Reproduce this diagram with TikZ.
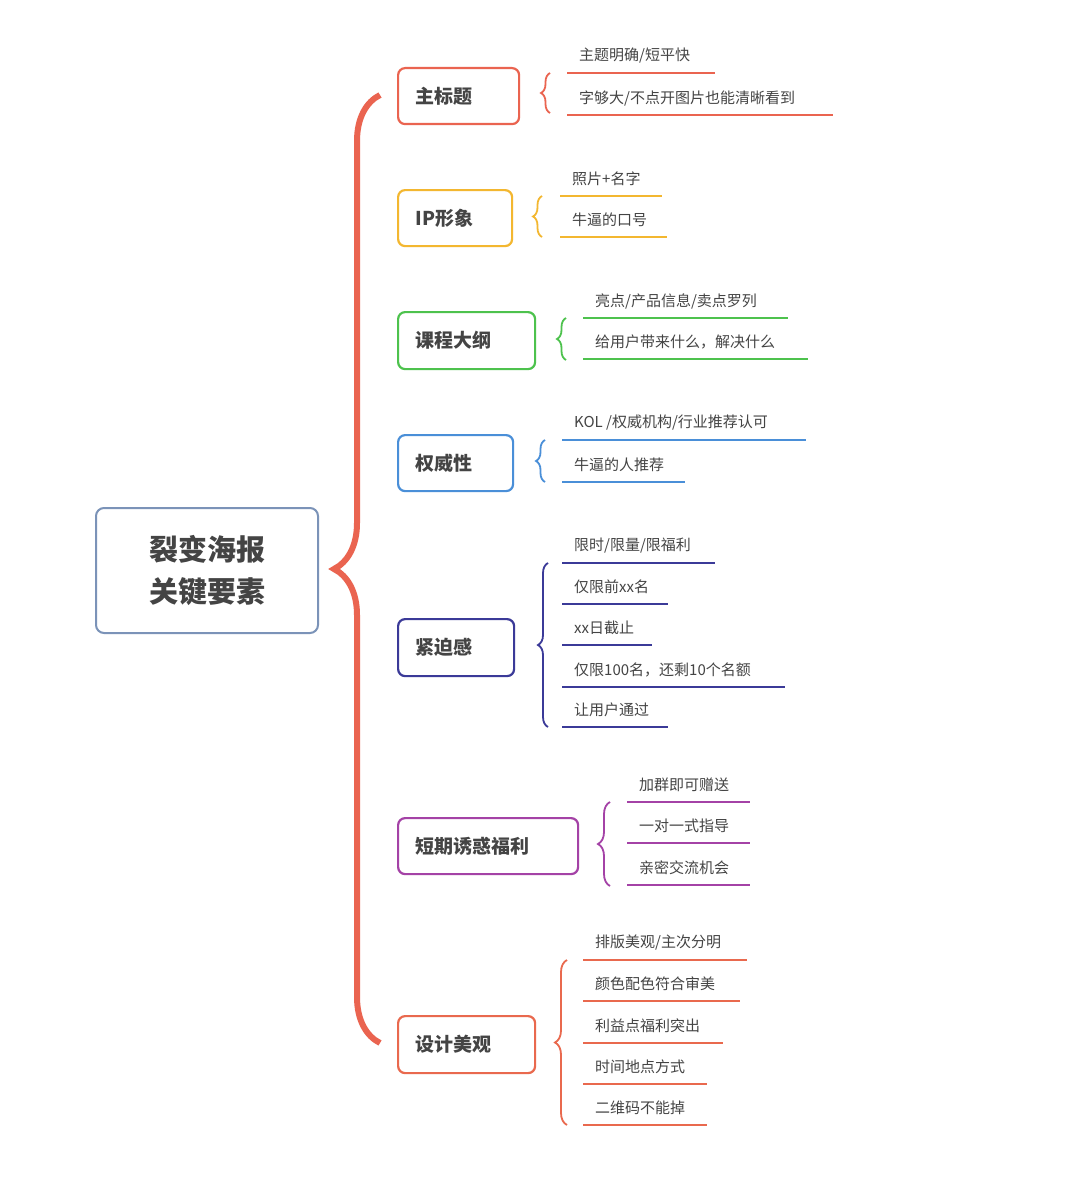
\documentclass[tikz,border=0pt]{standalone}
\usepackage{fontspec}
\setmainfont{Noto Sans CJK SC}
\usetikzlibrary{decorations.pathreplacing}
\definecolor{cred}{HTML}{EA6450}
\definecolor{cyel}{HTML}{F3B730}
\definecolor{cgrn}{HTML}{4DC24D}
\definecolor{cblu}{HTML}{4A8FD8}
\definecolor{cind}{HTML}{3B3A98}
\definecolor{cpur}{HTML}{A442A6}
\definecolor{cora}{HTML}{E9694E}
\definecolor{ctxt}{HTML}{444444}
\definecolor{cmain}{HTML}{7B93B8}
\tikzset{
 branch/.style={draw=#1,line width=2.2pt,rounded corners=7pt,anchor=north west,inner sep=0pt},
 btext/.style={text=ctxt,font=\fontsize{19}{19}\selectfont\bfseries,anchor=west},
 item/.style={anchor=west,text=ctxt,font=\fontsize{15}{15}\selectfont,inner sep=0pt},
 uline/.style={draw=#1,line width=2.4pt},
 br/.style={draw=#1,line width=1.8pt,decorate,decoration={brace,amplitude=9pt}},
}
\newcommand{\mkbranch}[7]{% name,color,x1,y1,x2,y2,text
 \node[branch=#2,minimum width={(#5-#3)*1pt},minimum height={(#6-#4)*1pt}] (#1) at (#3,#4) {};
 \node[btext] at ([xshift=15pt]#1.west) {#7};
}
\newcommand{\mkitem}[6]{% name,color,x1,x2,yline,text
 \coordinate (#1a) at (#3,#5); \coordinate (#1b) at (#4,#5);
 \draw[uline=#2] (#1a) -- (#1b);
 \node[item] (#1t) at (#3+12,#5-17) {#6};
}
\begin{document}
\begin{tikzpicture}[x=1pt,y=-1pt]
\useasboundingbox[fill=white] (0,0) rectangle (1070,1180);
\node[draw=cmain,line width=2pt,rounded corners=8pt,minimum width=222pt,minimum height=125pt,anchor=north west] (root) at (95,507) {};
\node[text=ctxt,font=\fontsize{29}{42}\selectfont\bfseries,align=center] at (root.center) {裂变海报\\关键要素};
\draw[draw=cred,line width=6pt,decorate,decoration={brace,amplitude=46pt,aspect=0.5}] (380,1043) -- (380,95);
% branches
\mkbranch{b1}{cred}{397}{67}{518}{123}{主标题}
\mkbranch{b2}{cyel}{397}{189}{511}{245}{IP形象}
\mkbranch{b3}{cgrn}{397}{311}{534}{368}{课程大纲}
\mkbranch{b4}{cblu}{397}{434}{512}{490}{权威性}
\mkbranch{b5}{cind}{397}{618}{513}{675}{紧迫感}
\mkbranch{b6}{cpur}{397}{817}{577}{873}{短期诱惑福利}
\mkbranch{b7}{cora}{397}{1015}{534}{1072}{设计美观}
% braces
\draw[br=cred] (550,113) -- (550,73);
\draw[br=cyel] (542,237) -- (542,196);
\draw[br=cgrn] (566,360) -- (566,318);
\draw[br=cblu] (545,482) -- (545,440);
\draw[br=cind,decoration={brace,amplitude=10pt}] (548,727) -- (548,563);
\draw[br=cpur,decoration={brace,amplitude=12pt}] (610,886) -- (610,802);
\draw[br=cora,decoration={brace,amplitude=12pt}] (567,1125) -- (567,960);
% items
\mkitem{i11}{cred}{567}{715}{73}{主题明确/短平快}
\mkitem{i12}{cred}{567}{833}{115}{字够大/不点开图片也能清晰看到}
\mkitem{i21}{cyel}{560}{662}{196}{照片+名字}
\mkitem{i22}{cyel}{560}{667}{237}{牛逼的口号}
\mkitem{i31}{cgrn}{583}{788}{318}{亮点/产品信息/卖点罗列}
\mkitem{i32}{cgrn}{583}{808}{359}{给用户带来什么，解决什么}
\mkitem{i41}{cblu}{562}{806}{440}{KOL /权威机构/行业推荐认可}
\mkitem{i42}{cblu}{562}{685}{482}{牛逼的人推荐}
\mkitem{i51}{cind}{562}{715}{563}{限时/限量/限福利}
\mkitem{i52}{cind}{562}{668}{604}{仅限前xx名}
\mkitem{i53}{cind}{562}{652}{645}{xx日截止}
\mkitem{i54}{cind}{562}{785}{687}{仅限100名，还剩10个名额}
\mkitem{i55}{cind}{562}{668}{727}{让用户通过}
\mkitem{i61}{cpur}{627}{750}{802}{加群即可赠送}
\mkitem{i62}{cpur}{627}{750}{843}{一对一式指导}
\mkitem{i63}{cpur}{627}{750}{885}{亲密交流机会}
\mkitem{i71}{cora}{583}{747}{960}{排版美观/主次分明}
\mkitem{i72}{cora}{583}{740}{1001}{颜色配色符合审美}
\mkitem{i73}{cora}{583}{723}{1043}{利益点福利突出}
\mkitem{i74}{cora}{583}{707}{1084}{时间地点方式}
\mkitem{i75}{cora}{583}{707}{1125}{二维码不能掉}
\end{tikzpicture}
\end{document}
